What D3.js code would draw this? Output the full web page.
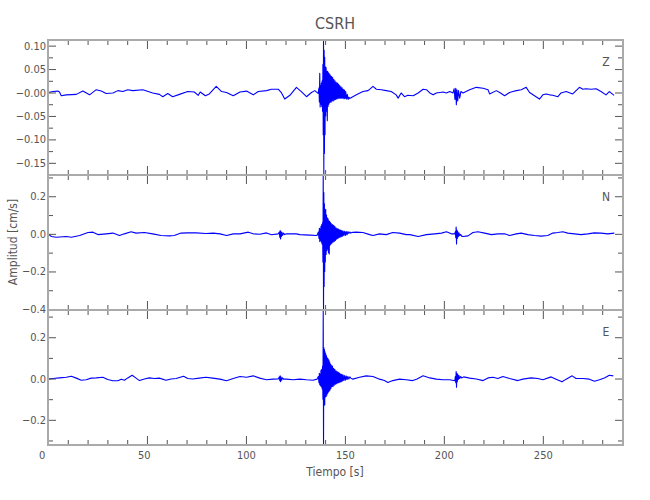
<!DOCTYPE html>
<html>
<head>
<meta charset="utf-8">
<script src="https://cdn.jsdelivr.net/npm/d3@7"></script>
<style>
body { margin: 0; background: #fff; }
text { font-family: "DejaVu Sans Condensed", "DejaVu Sans", sans-serif; font-stretch: condensed; fill: #555; }
</style>
</head>
<body>
<script>
// componente Z : [tiempo (s), amplitud (cm/s)]
var zData = [[0,0],[2.5,0.002],[5,0.003],[5.8,0.001],[6.7,-0.007],[9.2,-0.005],[14.3,-0.004],[17.6,0.003],[21,-0.005],[24.4,0.006],[26.9,0.003],[29.4,-0.002],[32.8,-0.001],[35.3,0.004],[37.8,0.002],[40.3,0.006],[42.8,0.004],[47.9,0.006],[52.9,-0.001],[56.3,-0.004],[58,-0.009],[60.5,-0.002],[63,-0.009],[66.4,-0.004],[70.6,0.002],[73.9,0.001],[75.9,-0.006],[76.9,0.001],[79.5,-0.007],[81.5,-0.003],[85,0.013],[87.7,0.002],[90.2,0],[93.6,-0.007],[97,0.001],[100.3,0.003],[103.7,-0.005],[106.2,0.002],[110.4,0.004],[112.9,0.007],[116.3,0.007],[118,-0.001],[119.6,-0.014],[122.2,-0.006],[125.5,0.011],[128,0.002],[130.6,-0.009],[133.1,0],[134.8,0.004],[136.5,-0.002],
  [136.9,0.010],[137.1,-0.020],[137.3,0.041],[137.5,-0.031],[137.7,0.015],[137.9,-0.025],[138.1,0.020],[138.3,-0.030],[138.5,0.025],[138.7,-0.040],[138.9,0.060],[139.05,-0.090],[139.2,0.112],[139.35,-0.176],[139.5,0.090],[139.65,-0.130],[139.8,0.075],[139.95,-0.090],[140.1,0.055],[140.3,-0.050],[140.5,0.053],[140.7,-0.040],[140.9,0.045],[141.1,-0.060],[141.3,0.045],[141.5,-0.030],[141.7,0.042],[141.9,-0.025],[142.1,0.040],[142.3,-0.022],[142.5,0.038],[142.7,-0.020],[142.9,0.035],[143.1,-0.020],[143.3,0.034],[143.5,-0.018],[143.8,0.032],[144.1,-0.018],[144.4,0.028],[144.7,-0.016],[145,0.025],[145.3,-0.015],[145.6,0.022],[145.9,-0.014],[146.2,0.020],[146.5,-0.013],[146.8,0.018],[147.1,-0.012],[147.4,0.015],[147.7,-0.012],[148,0.012],[148.3,-0.012],[148.6,0.010],[148.9,-0.012],[149.2,0.007],[149.5,-0.013],[149.8,0.005],[150.1,-0.013],[150.4,0.002],[150.8,-0.014],[151.2,-0.004],[151.6,-0.015],[152,-0.010],[152.4,-0.013],
  [155.8,-0.005],[159.1,0.002],[161.7,0.004],[164.2,0.013],[165.9,0.007],[168.4,0.006],[170.9,0.004],[173.4,0.002],[175.9,-0.005],[176.9,-0.012],[178.4,-0.001],[180.1,-0.009],[181.8,-0.006],[184.5,-0.007],[187,-0.001],[189.5,0.007],[191.2,0.006],[192.9,-0.001],[194.6,-0.005],[196.2,-0.001],[199.6,0.001],[201.3,-0.001],[203,0.002],[204.6,-0.001],[205.2,0.008],[205.6,-0.015],[206,0.009],[206.3,-0.026],[206.6,0.006],[207,-0.018],[207.4,0.004],[208,-0.012],[208.6,0.002],[209.7,-0.001],[213,0.006],[216.4,0.011],[219.8,0.009],[222.3,0.006],[223.1,-0.003],[226.5,0.004],[228.2,0],[230.7,-0.007],[233.2,0],[234.9,0.002],[236.6,0.004],[239.1,0.006],[241.6,0.011],[243.3,0],[245.8,-0.007],[248.3,-0.014],[250,-0.005],[251.7,-0.003],[253.4,-0.005],[255,-0.006],[257.6,-0.009],[259.2,-0.001],[261.8,0.002],[265.1,-0.003],[268.5,0.011],[270.2,0.007],[271.8,0.008],[274.4,0.007],[276.9,0.008],[279.4,0.002],[281.9,-0.005],[283.6,0.002],[286,-0.006]];

// componente N
var nData = [[0,0],[1.7,-0.014],[4.2,-0.018],[9.2,-0.014],[11.8,-0.018],[16,-0.009],[20.2,0.007],[22.7,0.009],[25.2,-0.004],[29.4,0],[32.8,0.004],[36.1,-0.009],[38.6,0],[42,0.011],[44.5,0.004],[48.7,0.007],[52.9,0],[57.1,-0.009],[61.3,-0.011],[63.8,-0.009],[67.2,0.004],[70.6,0.005],[74.8,0.005],[79.8,0.002],[83.5,0.004],[86.9,0],[90.2,-0.009],[93.6,0],[97,0],[101.2,0.009],[103.7,0],[107,-0.002],[110.4,0.005],[112.9,-0.005],[116.3,0],
  [116.9,0.010],[117.1,-0.018],[117.3,0.018],[117.5,-0.027],[117.7,0.012],[117.9,-0.015],[118.2,0.008],[118.5,-0.008],[119,0.004],[119.5,-0.004],[120.5,0],[122.2,0],[125.5,0],[127.2,-0.004],[132.2,-0.007],[135.9,-0.009],
  [136.6,0.010],[136.9,-0.025],[137.1,0.030],[137.3,-0.040],[137.5,0.025],[137.7,-0.035],[137.9,0.040],[138.1,-0.045],[138.3,0.050],[138.5,-0.055],[138.7,0.060],[138.9,-0.150],[139.05,0.313],[139.2,-0.405],[139.35,0.220],[139.5,-0.280],[139.65,0.160],[139.8,-0.200],[139.95,0.125],[140.1,-0.150],[140.3,0.130],[140.5,-0.110],[140.7,0.100],[140.9,-0.090],[141.1,0.085],[141.3,-0.080],[141.5,0.080],[141.7,-0.100],[141.9,0.070],[142.1,-0.107],[142.3,0.065],[142.5,-0.060],[142.7,0.060],[142.9,-0.055],[143.1,0.055],[143.4,-0.050],[143.7,0.050],[144,-0.045],[144.3,0.045],[144.6,-0.040],[144.9,0.040],[145.2,-0.035],[145.5,0.032],[145.8,-0.028],[146.1,0.028],[146.4,-0.025],[146.7,0.025],[147,-0.020],[147.3,0.022],[147.6,-0.018],[147.9,0.020],[148.2,-0.015],[148.5,0.018],[148.8,-0.012],[149.1,0.015],[149.5,-0.010],[149.9,0.014],[150.3,-0.008],[150.7,0.012],[151.1,-0.005],[151.5,0.012],[152,0.002],[152.5,0.010],[153,0.004],[154,0.008],[155.8,0.009],
  [159.1,0.007],[162.5,-0.004],[164.2,-0.009],[167.5,0],[170.9,-0.004],[174.2,0.007],[177.6,0.004],[181,-0.004],[182.8,-0.004],[187,-0.014],[191.2,-0.004],[195.4,0],[198.8,0.004],[201.3,0.011],[203.8,0],[205.5,0],[205.8,0.012],[206,-0.020],[206.2,0.036],[206.4,-0.054],[206.6,0.020],[206.8,-0.025],[207,0.012],[207.3,-0.015],[207.6,0.006],[208,-0.010],[208.5,-0.003],[209,-0.012],[209.7,-0.014],[212.2,-0.011],[214.7,0.007],[217.2,0.011],[220.6,0.004],[224,-0.004],[227.3,0],[230.7,0],[233.2,-0.009],[236.6,0],[239.1,0.004],[242.4,-0.004],[245.8,-0.009],[249.2,-0.012],[252.5,-0.009],[255,0.004],[257.6,0.007],[260.1,0.011],[262.6,0.004],[266,0],[269.3,-0.004],[272.7,0],[276,0.005],[279.4,0.004],[282.8,0],[286.1,0.004]];

// componente E
var eData = [[0,-0.003],[2.5,0],[5.9,0.003],[9.2,0.006],[11.8,0.011],[14.3,0.002],[16.8,-0.008],[19.3,-0.006],[21.8,0.002],[24.4,0.003],[27.7,0.006],[30.2,-0.005],[32.8,-0.011],[35.3,-0.011],[37,-0.003],[38.6,-0.008],[40.3,0.003],[42.5,0.016],[44.5,0.002],[46.2,-0.010],[48.7,-0.002],[51.2,0.003],[53.8,0],[56.3,0.002],[59.6,-0.008],[62.2,-0.002],[64.7,0],[66.4,0.005],[68.5,0.011],[70.6,0],[73.1,-0.002],[76.4,0.002],[79.8,0.006],[83.2,0.002],[86.9,-0.003],[90.2,-0.011],[93.6,0],[97,0.010],[100.3,0.006],[103.7,0.013],[107,0.002],[110.4,-0.006],[113.8,-0.003],[116.3,-0.002],
  [116.9,0.008],[117.1,-0.010],[117.3,0.013],[117.5,-0.015],[117.7,0.008],[118,-0.008],[118.5,0.004],[119,-0.003],[120.5,-0.003],[123.8,-0.006],[127.2,-0.003],[130.6,-0.006],[133.9,-0.008],[135.9,-0.003],
  [136.6,0.010],[136.9,-0.020],[137.1,0.025],[137.3,-0.030],[137.5,0.020],[137.7,-0.035],[137.9,0.040],[138.1,-0.040],[138.3,0.045],[138.5,-0.050],[138.7,0.060],[138.9,-0.100],[139.05,0.330],[139.2,-0.320],[139.35,0.150],[139.5,-0.130],[139.65,0.140],[139.8,-0.127],[139.95,0.130],[140.1,-0.090],[140.3,0.120],[140.5,-0.087],[140.7,0.110],[140.9,-0.080],[141.1,0.100],[141.3,-0.071],[141.5,0.095],[141.7,-0.065],[141.9,0.090],[142.1,-0.060],[142.3,0.080],[142.5,-0.055],[142.7,0.070],[142.9,-0.048],[143.1,0.065],[143.4,-0.040],[143.7,0.060],[144,-0.038],[144.3,0.050],[144.6,-0.032],[144.9,0.045],[145.2,-0.028],[145.5,0.038],[145.8,-0.025],[146.1,0.034],[146.4,-0.022],[146.7,0.030],[147,-0.020],[147.3,0.026],[147.6,-0.018],[147.9,0.022],[148.2,-0.015],[148.5,0.020],[148.8,-0.012],[149.1,0.017],[149.5,-0.010],[149.9,0.015],[150.3,-0.008],[150.7,0.012],[151.1,-0.005],[151.5,0.010],[152,-0.002],[152.5,0.008],[153,0.002],[154,-0.003],
  [157.4,0.006],[160.8,0.013],[164.2,0.010],[167.5,-0.003],[170,-0.010],[171.7,-0.019],[174.2,-0.010],[177.6,-0.003],[181,-0.006],[184.3,-0.010],[186.2,-0.003],[189.5,0.013],[192.9,0.003],[196.2,-0.003],[199.6,-0.006],[203,-0.006],[205.5,-0.011],[205.8,0.010],[206,-0.020],[206.2,0.034],[206.4,-0.042],[206.6,0.025],[206.8,-0.015],[207,0.020],[207.3,-0.005],[207.6,0.015],[208,0],[208.5,0.010],[209,0.003],[210,0.008],[213,0.002],[216.4,-0.002],[219.8,-0.010],[222.3,0.003],[224.8,0.006],[227.3,0],[229.8,0.010],[233.2,0],[237.4,-0.010],[239.9,-0.003],[244.1,0.003],[247.5,0],[250,-0.006],[254.2,0.008],[256.7,-0.003],[259.7,-0.016],[261.8,-0.003],[264.8,0.013],[266.8,0],[270.2,0],[273.5,-0.003],[276.1,-0.013],[278.6,-0.006],[281.1,0.003],[283.6,0.016],[285.6,0.013]];

// marcas de los ejes
var xMajor = [0, 50, 100, 150, 200, 250];
var xMinor = [10, 20, 30, 40, 60, 70, 80, 90, 110, 120, 130, 140, 160, 170, 180, 190, 210, 220, 230, 240, 260, 270, 280, 290];
var zMajor = [0.10, 0.05, 0, -0.05, -0.10, -0.15];
var zLabels = ["0.10", "0.05", "\u22120.00", "\u22120.05", "\u22120.10", "\u22120.15"];
var zMinor = [0.075, 0.025, -0.025, -0.075, -0.125, -0.175];
var nMajor = [0.2, 0, -0.2, -0.4];
var nLabels = ["0.2", "0.0", "\u22120.2", "\u22120.4"];
var nMinor = [0.3, 0.1, -0.1, -0.3];
var eMajor = [0.2, 0, -0.2];
var eLabels = ["0.2", "0.0", "\u22120.2"];
var eMinor = [0.3, 0.1, -0.1, -0.3];

var w = 650, h = 500;
var left = 48, right = 623;

var svg = d3.select("body").append("svg")
  .attr("width", w)
  .attr("height", h);

var x = d3.scaleLinear().domain([0, 290.5]).range([left, right]);

var panels = [
  { name: "Z", data: zData, top: 40, bottom: 175, domain: [-0.176, 0.112], major: zMajor, labels: zLabels, minor: zMinor },
  { name: "N", data: nData, top: 175, bottom: 310, domain: [-0.405, 0.313], major: nMajor, labels: nLabels, minor: nMinor },
  { name: "E", data: eData, top: 310, bottom: 445, domain: [-0.322, 0.332], major: eMajor, labels: eLabels, minor: eMinor }
];

function styleAxis(g) {
  g.select(".domain").remove();
  g.selectAll(".tick line").attr("stroke", "#555").attr("stroke-width", 1);
  g.selectAll(".tick text").attr("font-size", "11px").attr("fill", "#555")
    .style("font-family", "'DejaVu Sans Condensed', 'DejaVu Sans', sans-serif");
}

panels.forEach(function (p, i) {
  var y = d3.scaleLinear().domain(p.domain).range([p.bottom, p.top]);

  svg.append("clipPath").attr("id", "clip" + i)
    .append("rect")
    .attr("x", left).attr("y", p.top)
    .attr("width", right - left).attr("height", p.bottom - p.top);

  // traza
  var line = d3.line()
    .x(function (d) { return x(d[0]); })
    .y(function (d) { return y(d[1]); });

  svg.append("path")
    .datum(p.data)
    .attr("clip-path", "url(#clip" + i + ")")
    .attr("d", line)
    .attr("fill", "none")
    .attr("stroke", "#0000ff")
    .attr("stroke-width", 1.1)
    .attr("stroke-linejoin", "round");

  // ejes x arriba y abajo (marcas hacia adentro)
  svg.append("g").attr("transform", "translate(0," + p.top + ")")
    .call(d3.axisTop(x).tickValues(xMajor).tickSize(-9).tickFormat(""))
    .call(styleAxis);
  svg.append("g").attr("transform", "translate(0," + p.top + ")")
    .call(d3.axisTop(x).tickValues(xMinor).tickSize(-5).tickFormat(""))
    .call(styleAxis);
  var bx = svg.append("g").attr("transform", "translate(0," + p.bottom + ")")
    .call(d3.axisBottom(x).tickValues(xMajor).tickSize(-9).tickPadding(6)
      .tickFormat(i === 2 ? d3.format("d") : ""))
    .call(styleAxis);
  // etiquetas con ancho fijo de 3 cifras, alineadas a la izquierda
  bx.selectAll(".tick text").attr("text-anchor", "start").attr("x", -9.5);
  svg.append("g").attr("transform", "translate(0," + p.bottom + ")")
    .call(d3.axisBottom(x).tickValues(xMinor).tickSize(-5).tickFormat(""))
    .call(styleAxis);

  // ejes y izquierda y derecha
  svg.append("g").attr("transform", "translate(" + left + ",0)")
    .call(d3.axisLeft(y).tickValues(p.major).tickSize(-8).tickPadding(2)
      .tickFormat(function (d, k) { return p.labels[k]; }))
    .call(styleAxis);
  svg.append("g").attr("transform", "translate(" + left + ",0)")
    .call(d3.axisLeft(y).tickValues(p.minor).tickSize(-5).tickFormat(""))
    .call(styleAxis);
  svg.append("g").attr("transform", "translate(" + right + ",0)")
    .call(d3.axisRight(y).tickValues(p.major).tickSize(-8).tickFormat(""))
    .call(styleAxis);
  svg.append("g").attr("transform", "translate(" + right + ",0)")
    .call(d3.axisRight(y).tickValues(p.minor).tickSize(-5).tickFormat(""))
    .call(styleAxis);

  // marco
  svg.append("rect")
    .attr("x", left).attr("y", p.top)
    .attr("width", right - left).attr("height", p.bottom - p.top)
    .attr("fill", "none")
    .attr("stroke", "#aaa")
    .attr("stroke-width", 2);

  // nombre de la componente
  svg.append("text")
    .attr("x", 606).attr("y", p.top + 26)
    .attr("text-anchor", "middle")
    .attr("font-size", "12px")
    .text(p.name);
});

// titulo y etiquetas
svg.append("text")
  .attr("x", 335).attr("y", 29)
  .attr("text-anchor", "middle")
  .attr("font-size", "16px")
  .attr("fill", "#666")
  .text("CSRH");

svg.append("text")
  .attr("x", 335).attr("y", 476)
  .attr("text-anchor", "middle")
  .attr("font-size", "12px")
  .text("Tiempo  [s]");

svg.append("text")
  .attr("transform", "translate(17,242) rotate(-90)")
  .attr("text-anchor", "middle")
  .attr("font-size", "12px")
  .text("Amplitud  [cm/s]");
</script>
</body>
</html>
